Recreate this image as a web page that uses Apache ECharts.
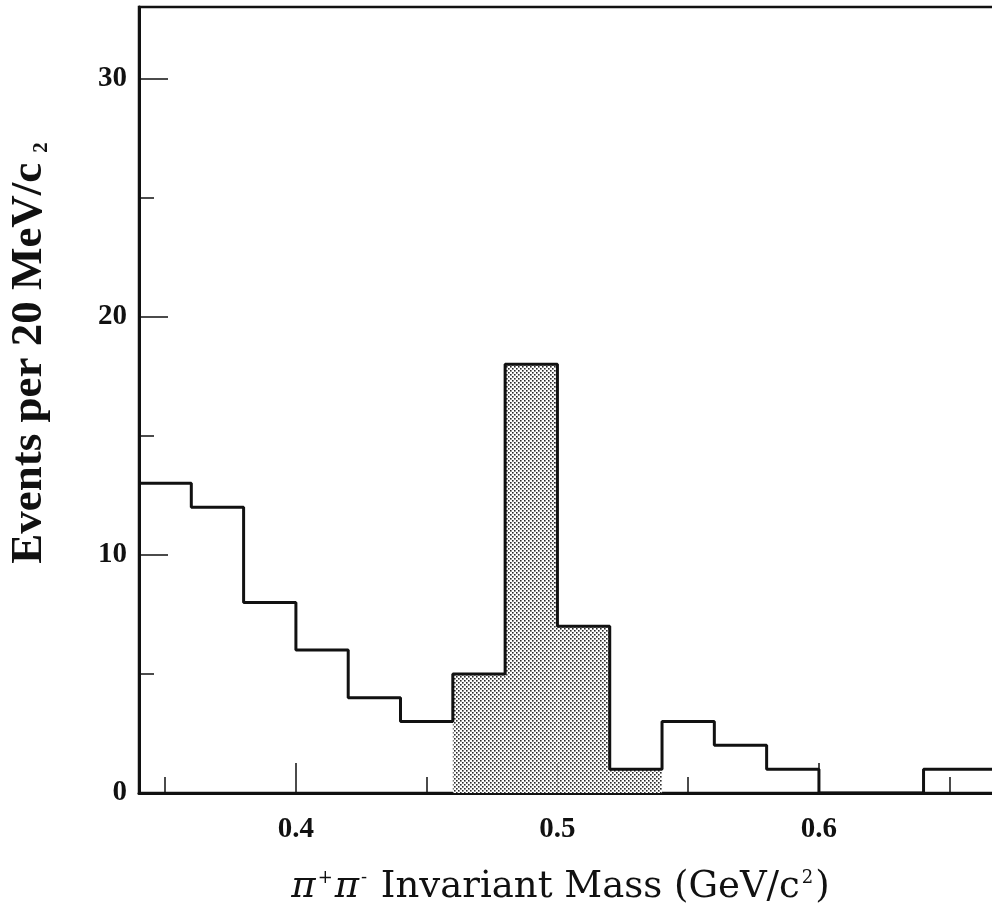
<!DOCTYPE html>
<html>
<head>
<meta charset="utf-8">
<script src="https://cdn.jsdelivr.net/npm/echarts@6/dist/echarts.min.js"></script>
<style>
  html, body { margin: 0; padding: 0; background: #fff; }
  #chart { width: 992px; height: 911px; }
</style>
</head>
<body>
<div id="chart"></div>
<script>
// Lower edges of the 20 MeV/c^2 mass bins (GeV/c^2)
const binLow = [0.34, 0.36, 0.38, 0.40, 0.42, 0.44, 0.46, 0.48, 0.50, 0.52,
                0.54, 0.56, 0.58, 0.60, 0.62, 0.64, 0.66];
// Events per bin
const counts = [13, 12, 8, 6, 4, 3, 5, 18, 7, 1, 3, 2, 1, 0, 0, 1, 1];
// Bins in the K0 signal window (drawn shaded)
const signal = [0, 0, 0, 0, 0, 0, 1, 1, 1, 1, 0, 0, 0, 0, 0, 0, 0];
const binWidth = 0.02;

// Axis ranges and tick values
const xMin = 0.34, xMax = 0.67;
const yMin = 0, yMax = 33;
const xMajorTicks = [0.4, 0.5, 0.6];
const xMinorTicks = [0.35, 0.45, 0.55, 0.65];
const yMajorTicks = [10, 20, 30];
const yLabels = [0, 10, 20, 30];
const yMinorTicks = [5, 15, 25];

// Soft halftone dot texture for the shaded bins (4x4 tile, two dots)
const tile = document.createElement('canvas');
tile.width = 4; tile.height = 4;
const tctx = tile.getContext('2d');
const img = tctx.createImageData(4, 4);
const shade = [
  [0x2a, 0x80, 0xff, 0xff],
  [0x80, 0xb0, 0xff, 0xff],
  [0xff, 0xff, 0x2a, 0x80],
  [0xff, 0xff, 0x80, 0xb0]
];
for (let r = 0; r < 4; r++) {
  for (let c = 0; c < 4; c++) {
    const k = (r * 4 + c) * 4;
    img.data[k] = img.data[k + 1] = img.data[k + 2] = shade[r][c];
    img.data[k + 3] = 255;
  }
}
tctx.putImageData(img, 0, 0);
const dots = { image: tile, repeat: 'repeat' };

const shadedData = [];
binLow.forEach((lo, i) => {
  if (signal[i]) shadedData.push([lo, lo + binWidth, counts[i]]);
});

const outline = binLow.map((lo, i) => [lo, counts[i]]);
outline.push([binLow[binLow.length - 1] + binWidth, counts[counts.length - 1]]);

const ink = '#111';

const chart = echarts.init(document.getElementById('chart'), null, { renderer: 'canvas' });

chart.setOption({
  backgroundColor: '#fff',
  animation: false,
  grid: {
    left: 139, right: -10, top: 7, bottom: 118,
    show: true, borderColor: ink, borderWidth: 2.5,
    containLabel: false, outerBoundsMode: 'none'
  },
  xAxis: [{
    type: 'value', min: xMin, max: xMax, position: 'bottom',
    name: '{pi|π}{sup|+}{pi|π}{sup|-} Invariant Mass (GeV/c{sup|2})',
    nameLocation: 'middle', nameGap: 76,
    nameTextStyle: {
      fontFamily: '"DejaVu Serif", serif', fontSize: 37, color: ink,
      padding: [0, 20, 0, 0],
      rich: {
        pi: { fontFamily: '"DejaVu Serif", serif', fontStyle: 'italic', fontSize: 37, color: ink },
        sup: { fontFamily: '"DejaVu Serif", serif', fontSize: 18, color: ink, verticalAlign: 'top', padding: [0, 2, 0, 2] }
      }
    },
    splitLine: { show: false },
    axisLine: { show: true, onZero: false, lineStyle: { color: ink, width: 3 } },
    axisTick: { show: true, inside: true, length: 30, customValues: xMajorTicks, lineStyle: { color: ink, width: 1.5 } },
    axisLabel: {
      customValues: xMajorTicks, margin: 22, color: ink,
      fontFamily: '"Liberation Serif", serif', fontWeight: 'bold', fontSize: 29,
      formatter: v => v.toFixed(1)
    }
  }, {
    type: 'value', min: xMin, max: xMax, position: 'bottom',
    splitLine: { show: false },
    axisLine: { show: false },
    axisTick: { show: true, inside: true, length: 16, customValues: xMinorTicks, lineStyle: { color: ink, width: 1.5 } },
    axisLabel: { show: false }
  }],
  yAxis: [{
    type: 'value', min: yMin, max: yMax, position: 'left',
    splitLine: { show: false },
    axisLine: { show: true, onZero: false, lineStyle: { color: ink, width: 3 } },
    axisTick: { show: true, inside: true, length: 29, customValues: yMajorTicks, lineStyle: { color: ink, width: 1.5 } },
    axisLabel: {
      customValues: yLabels, margin: 12, color: ink,
      fontFamily: '"Liberation Serif", serif', fontWeight: 'bold', fontSize: 29
    }
  }, {
    type: 'value', min: yMin, max: yMax, position: 'left',
    splitLine: { show: false },
    axisLine: { show: false },
    axisTick: { show: true, inside: true, length: 15, customValues: yMinorTicks, lineStyle: { color: ink, width: 1.5 } },
    axisLabel: { show: false }
  }],
  graphic: [{
    type: 'text',
    x: 29, y: 353,
    rotation: Math.PI / 2,
    style: {
      text: '{main|Events per 20 MeV/c}{sub|2}',
      fill: ink, align: 'center', verticalAlign: 'middle',
      rich: {
        main: { fontFamily: '"Liberation Serif", serif', fontWeight: 'bold', fontSize: 45, lineHeight: 46, fill: ink },
        sub: { fontFamily: '"Liberation Serif", serif', fontWeight: 'bold', fontSize: 21, lineHeight: 4, fill: ink,
               verticalAlign: 'bottom', padding: [0, 0, 0, 10] }
      }
    }
  }],
  series: [{
    type: 'custom',
    xAxisIndex: 0, yAxisIndex: 0,
    data: shadedData,
    z: 1,
    renderItem: (params, api) => {
      const p0 = api.coord([api.value(0), api.value(2)]);
      const p1 = api.coord([api.value(1), 0]);
      return {
        type: 'rect',
        shape: { x: p0[0], y: p0[1], width: p1[0] - p0[0], height: p1[1] - p0[1] },
        style: { fill: dots }
      };
    }
  }, {
    type: 'line',
    xAxisIndex: 0, yAxisIndex: 0,
    data: outline,
    step: 'end',
    symbol: 'none',
    clip: true,
    z: 3,
    lineStyle: { color: ink, width: 3 }
  }]
});
</script>
</body>
</html>
